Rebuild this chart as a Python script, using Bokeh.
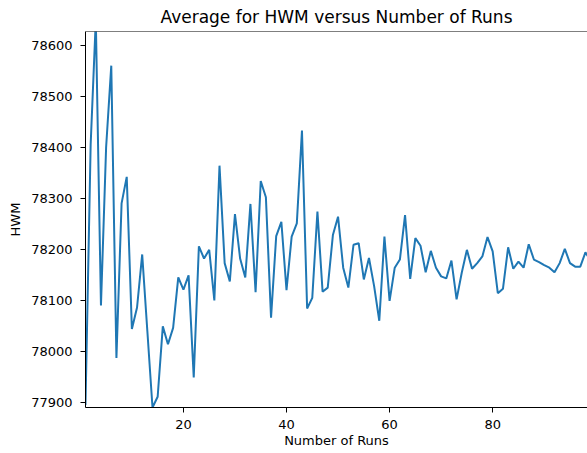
from bokeh.plotting import figure
from bokeh.models import Span, FixedTicker
from bokeh.embed import file_html
from bokeh.resources import INLINE

runs = list(range(1, 100))
hwm = [77895, 78405, 78650, 78090, 78400, 78560, 77987, 78290, 78342, 78044,
       78086, 78190, 78040, 77890, 77911, 78049, 78014, 78046, 78145, 78121,
       78149, 77949, 78206, 78182, 78199, 78100, 78364, 78173, 78137, 78269,
       78182, 78145, 78289, 78116, 78334, 78302, 78066, 78226, 78254, 78120,
       78225, 78251, 78433, 78084, 78105, 78274, 78117, 78125, 78228, 78264,
       78164, 78125, 78209, 78212, 78141, 78183, 78128, 78060, 78225, 78099,
       78164, 78180, 78267, 78142, 78222, 78207, 78155, 78197, 78164, 78147,
       78143, 78178, 78102, 78154, 78199, 78162, 78173, 78186, 78224, 78196,
       78114, 78123, 78204, 78162, 78176, 78164, 78210, 78180, 78175, 78169,
       78164, 78155, 78173, 78201, 78173, 78166, 78166, 78194, 78178]
x_ticks = [20, 40, 60, 80]
y_ticks = [77900, 78000, 78100, 78200, 78300, 78400, 78500, 78600]
x_lim = (1, 98.4)
y_lim = (77890, 78627)

FONT = "DejaVu Sans"

p = figure(width=587, height=453, output_backend="svg", toolbar_location=None,
           x_range=x_lim, y_range=y_lim,
           title="Average for HWM versus Number of Runs",
           x_axis_label="Number of Runs", y_axis_label="HWM",
           min_border_left=85, min_border_right=0, min_border_top=30,
           min_border_bottom=46)

p.line(runs, hwm, line_color="#1f77b4", line_width=2)

p.grid.visible = False
p.outline_line_color = None
p.background_fill_color = "white"
p.border_fill_color = "white"

p.add_layout(Span(location=y_lim[1], dimension="width", line_color="black", line_width=1))

p.title.text_font = FONT
p.title.text_font_size = "17px"
p.title.text_font_style = "normal"
p.title.align = "center"
p.title.text_color = "black"
p.title.standoff = 9

for ax in (p.xaxis[0], p.yaxis[0]):
    ax.axis_line_color = "black"
    ax.axis_line_width = 1
    ax.major_tick_line_color = "black"
    ax.major_tick_out = 5
    ax.major_tick_in = 0
    ax.minor_tick_line_color = None
    ax.major_label_text_font = FONT
    ax.major_label_text_font_size = "13px"
    ax.major_label_text_color = "black"
    ax.axis_label_text_font = FONT
    ax.axis_label_text_font_size = "13px"
    ax.axis_label_text_font_style = "normal"
    ax.axis_label_text_color = "black"

p.xaxis[0].ticker = FixedTicker(ticks=x_ticks)
p.yaxis[0].ticker = FixedTicker(ticks=y_ticks)
p.xaxis[0].major_label_standoff = 7
p.xaxis[0].axis_label_standoff = 1
p.yaxis[0].major_label_standoff = 8
p.yaxis[0].axis_label_standoff = 5

open("out.html", "w").write(file_html(p, INLINE))
